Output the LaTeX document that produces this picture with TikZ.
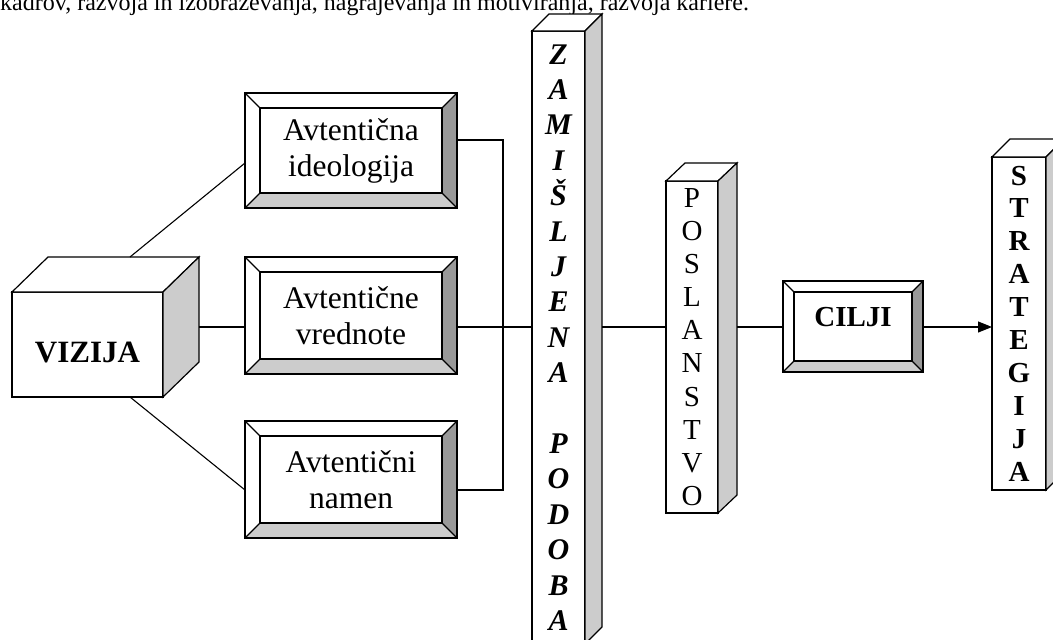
\documentclass[tikz,border=0pt]{standalone}
\usepackage{fontspec}
\setmainfont{Liberation Serif}
\usetikzlibrary{arrows.meta,calc}

\definecolor{sidegray}{gray}{0.8}
\definecolor{bevdark}{gray}{0.6}
\definecolor{bevlight}{gray}{0.8}

% bevel faces of a framed box: dark right edge, light bottom edge, inner frame
\newcommand\bevelfaces[1]{%
  \fill[bevdark] (path picture bounding box.north east) -- (path picture bounding box.south east)
    -- ([xshift=-#1,yshift=#1]path picture bounding box.south east)
    -- ([xshift=-#1,yshift=-#1]path picture bounding box.north east) -- cycle;
  \fill[bevlight] (path picture bounding box.south west) -- (path picture bounding box.south east)
    -- ([xshift=-#1,yshift=#1]path picture bounding box.south east)
    -- ([xshift=#1,yshift=#1]path picture bounding box.south west) -- cycle;
  \draw ([xshift=#1,yshift=-#1]path picture bounding box.north west)
    rectangle ([xshift=-#1,yshift=#1]path picture bounding box.south east);
  \draw (path picture bounding box.north west) -- ++(#1,-#1);
  \draw (path picture bounding box.north east) -- ++(-#1,-#1);
  \draw (path picture bounding box.south east) -- ++(-#1,#1);
  \draw (path picture bounding box.south west) -- ++(#1,#1);
}

% top and side faces of a block: node, depth right, depth up
\newcommand\prismfaces[3]{%
  \filldraw[fill=white, line width=1.2pt] (#1.north west) -- ++(#2,#3)
    -- ([xshift=#2,yshift=#3]#1.north east) -- (#1.north east) -- cycle;
  \filldraw[fill=sidegray, line width=1.2pt] (#1.north east) -- ++(#2,#3)
    -- ([xshift=#2,yshift=#3]#1.south east) -- (#1.south east) -- cycle;
}

\tikzset{
  box/.style={draw, fill=white, inner sep=0pt, outer sep=0pt, line width=1.2pt},
  bevelbox/.style={box, path picture={\bevelfaces{#1}}},
  boxtext/.style={font=\fontsize{31.5}{36}\selectfont, align=center},
  link/.style={line width=1.1pt},
}

\begin{document}
\begin{tikzpicture}[x=1pt, y=-1pt]
\useasboundingbox (0,0) rectangle (1053,640);
\clip (0,0) rectangle (1053,640);

\node[anchor=base west, inner sep=0pt, font=\fontsize{24}{28}\selectfont] (intro) at (0,10.5)
  {kadrov, razvoja in izobraževanja, nagrajevanja in motiviranja, razvoja kariere.};

\coordinate (axis) at (0,327);

% left block
\node[box, minimum width=151pt, minimum height=105pt,
      font=\fontsize{31}{35}\selectfont\bfseries, text height=35pt, text depth=0pt]
  (viz) at (87.5,344.5) {VIZIJA};
\prismfaces{viz}{36pt}{35pt}

% three framed boxes
\node[bevelbox=15pt, boxtext, minimum width=212pt, minimum height=115pt]
  (ideo) at (351,150.5) {Avtentična\\ideologija};
\node[bevelbox=15pt, boxtext, minimum width=212pt, minimum height=117pt]
  (vred) at (351,315.5) {Avtentične\\vrednote};
\node[bevelbox=15pt, boxtext, minimum width=212pt, minimum height=117pt]
  (namen) at (351,479.5) {Avtentični\\namen};

% tall column
\node[box, minimum width=53pt, minimum height=613pt, align=center,
      font=\fontsize{30}{35.4}\selectfont\bfseries\itshape]
  (zam) at (558.5,337.5) {Z\\A\\M\\I\\Š\\L\\J\\E\\N\\A\\ \\P\\O\\D\\O\\B\\A};
\prismfaces{zam}{17pt}{17pt}

\node[box, minimum width=52pt, minimum height=332pt, align=center,
      font=\fontsize{29}{33.1}\selectfont]
  (posl) at (692,347) {P\\O\\S\\L\\A\\N\\S\\T\\V\\O};
\prismfaces{posl}{19pt}{18pt}

\node[bevelbox=11pt, minimum width=140pt, minimum height=91pt,
      font=\fontsize{29}{33}\selectfont\bfseries, text height=10pt, text depth=10pt]
  (cilji) at (853,326.5) {CILJI};

\node[box, minimum width=54pt, minimum height=333pt, align=center,
      font=\fontsize{29}{32.9}\selectfont\bfseries]
  (strat) at (1019,323.5) {S\\T\\R\\A\\T\\E\\G\\I\\J\\A};
\prismfaces{strat}{18pt}{18pt}

% connectors
\draw[link] ([xshift=118pt,yshift=35pt]viz.north west) -- ([yshift=-12.5pt]ideo.west);
\draw[link] ([xshift=42.5pt]viz.south) -- ([yshift=-10.5pt]namen.west);
\draw[link] ($(viz.east |- axis)+(36,0)$) -- (vred.west |- axis);
\draw[link] ([yshift=10.5pt]ideo.east) -- ++(46,0) |- ([yshift=-10.5pt]namen.east);
\draw[link] (vred.east |- axis) -- (zam.west |- axis);
\draw[link] ($(zam.east |- axis)+(17,0)$) -- (posl.west |- axis);
\draw[link] ($(posl.east |- axis)+(19,0)$) -- (cilji.west |- axis);
\draw[link, -{Triangle[length=14pt,width=11pt]}] (cilji.east |- axis) -- (strat.west |- axis);
\end{tikzpicture}
\end{document}
